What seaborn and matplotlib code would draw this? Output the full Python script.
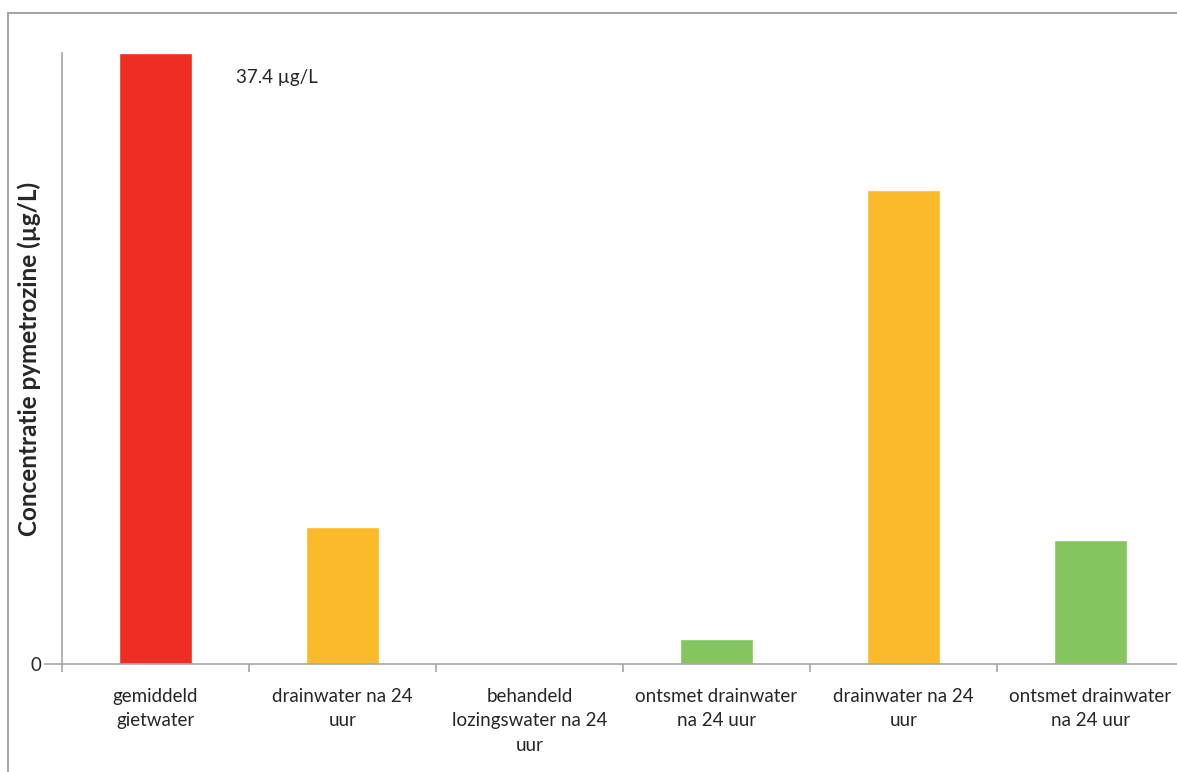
"""
pymetrozine concentration bar chart
"""

import matplotlib
matplotlib.use("Agg")
import matplotlib.pyplot as plt
from matplotlib.lines import Line2D
import seaborn as sns
import pandas as pd

# data
labels = [
    "gemiddeld\ngietwater",
    "drainwater na 24\nuur",
    "behandeld\nlozingswater na 24\nuur",
    "ontsmet drainwater\nna 24 uur",
    "drainwater na 24\nuur",
    "ontsmet drainwater\nna 24 uur",
]
values = [37.4, 8.4, 0.0, 1.5, 29.0, 7.6]
colors = ["#EE2E24", "#FBBA2A", "#FBBA2A", "#85C55F", "#FBBA2A", "#85C55F"]
annotation = "37.4 µg/L"

sns.set_style("white")
plt.rcParams["font.family"] = ["Lato", "DejaVu Sans"]

df = pd.DataFrame({
    "pos": [str(i) for i in range(len(values))],
    "value": values,
})

fig = plt.figure(figsize=(11.77, 7.72), dpi=100)
ax = fig.add_axes([62 / 1177, 108 / 772, 1122 / 1177, 611 / 772])

sns.barplot(
    data=df,
    x="pos",
    y="value",
    hue="pos",
    palette=colors,
    legend=False,
    width=0.39,
    saturation=1,
    ax=ax,
)

ax.set_xlim(-0.5, 5.5)
ax.set_ylim(0, 37.4)
ax.set_yticks([0])
ax.set_yticklabels(["0"], fontsize=13.5)
ax.set_xticks(range(len(labels)))
ax.set_xticklabels(labels, fontsize=13.5, linespacing=1.55)
ax.set_xticks([i + 0.5 for i in range(-1, len(labels))], minor=True)
ax.tick_params(axis="x", which="major", bottom=True, length=0, pad=17)
ax.tick_params(axis="x", which="minor", bottom=True, length=6, width=1.2,
               color="#a6a6a6", direction="out")
ax.tick_params(axis="y", left=True, length=13, width=1.2, color="#a6a6a6",
               direction="out", pad=2)
ax.set_xlabel("")
ax.set_ylabel("Concentratie pymetrozine (µg/L)", fontsize=17.5, fontweight="bold")
ax.yaxis.set_label_coords(-0.019, 0.5)

for side in ["top", "right"]:
    ax.spines[side].set_visible(False)
for side in ["left", "bottom"]:
    ax.spines[side].set_color("#a6a6a6")
    ax.spines[side].set_linewidth(1.2)

ax.text(0.43, 35.9, annotation, fontsize=13.5, va="center", ha="left")

# chart area border (left and top edges only visible)
fig.add_artist(Line2D([8 / 1177, 8 / 1177], [0, 1 - 13 / 772],
                      transform=fig.transFigure, color="#a6a6a6", lw=1.5))
fig.add_artist(Line2D([8 / 1177, 1], [1 - 13 / 772, 1 - 13 / 772],
                      transform=fig.transFigure, color="#a6a6a6", lw=1.5))

fig.savefig("out.png", dpi=100)
plt.close(fig)
